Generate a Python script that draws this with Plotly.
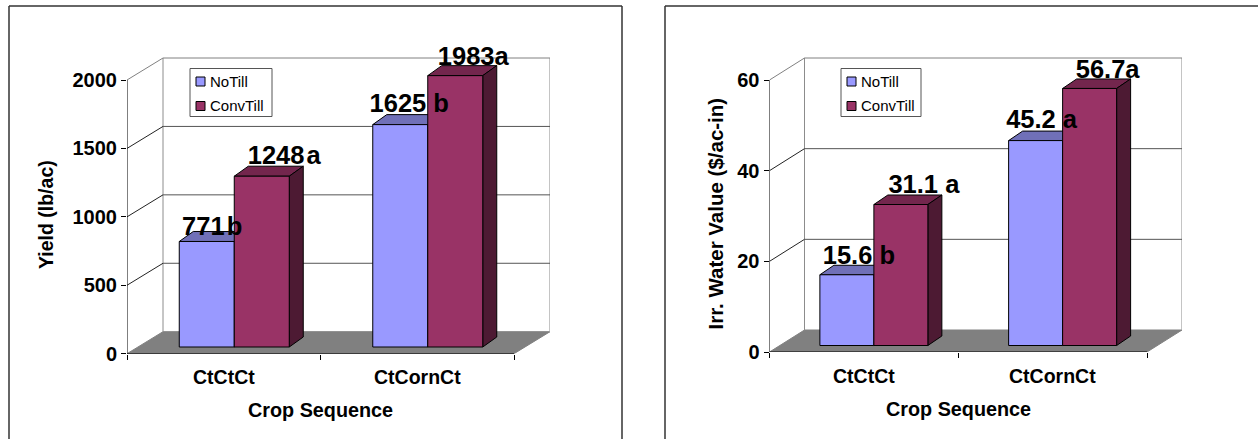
import plotly.graph_objects as go

W, H = 1258, 439
categories = ["CtCtCt", "CtCornCt"]
series_names = ["NoTill", "ConvTill"]

yield_notill = [771, 1625]
yield_convtill = [1248, 1983]
yield_labels_notill = ["771\u200ab", "1625 b"]
yield_labels_convtill = ["1248\u200aa", "1983a"]
yield_ticks = [0, 500, 1000, 1500, 2000]

water_notill = [15.6, 45.2]
water_convtill = [31.1, 56.7]
water_labels_notill = ["15.6 b", "45.2 a"]
water_labels_convtill = ["31.1 a", "56.7a"]
water_ticks = [0, 20, 40, 60]

BLUE, RED = "#9999FF", "#993366"
BLUE_TOP, RED_TOP = "#7070B8", "#73264D"
BLUE_SIDE, RED_SIDE = "#4D4D80", "#4D1A33"
FLOOR = "#808080"
FONT = "Liberation Sans"
HEADROOM = 40  # px of empty axis above the back wall so that tall value labels stay in range


def px(x):
    return x / W


def py(y):
    return 1 - y / H


fig = go.Figure()
shapes, annotations = [], []
layout_axes = {}


def add_chart(idx, cfg):
    xn = "x" if idx == 1 else f"x{idx}"
    yn = "y" if idx == 1 else f"y{idx}"
    xa, ya = f"xaxis{'' if idx == 1 else idx}", f"yaxis{'' if idx == 1 else idx}"
    ticks = cfg["ticks"]
    n = len(categories)
    gw = (cfg["x_front_right"] - cfg["x0"]) / n           # px per category
    vs = (cfg["y0"] - cfg["y_top"]) / ticks[-1]           # px per value unit
    dX, dY = cfg["wall_dx"] / gw, cfg["wall_dy"] / vs     # wall depth in axis units
    bX, bY = cfg["bar_dx"] / gw, cfg["bar_dy"] / vs       # bar plane offset
    tX, tY = cfg["top_dx"] / gw, cfg["top_dy"] / vs       # bar depth
    bw = cfg["bar_w"] / gw

    def path(pts):
        return "M" + " L".join(f"{a},{b}" for a, b in pts) + " Z"

    def shape(pts, fill, line, lw=1):
        shapes.append(dict(type="path", xref=xn, yref=yn, layer="below", path=path(pts),
                           fillcolor=fill, line=dict(color=line, width=lw)))

    def seg(x0, y0, x1, y1, color, lw=1):
        shapes.append(dict(type="line", xref=xn, yref=yn, layer="below", x0=x0, y0=y0, x1=x1, y1=y1,
                           line=dict(color=color, width=lw)))

    # walls, floor, gridlines
    shape([(0, 0), (n, 0), (n + dX, dY), (dX, dY)], FLOOR, FLOOR)
    seg(dX, dY, dX, ticks[-1] + dY, "#8c8c8c")
    seg(n + dX, dY, n + dX, ticks[-1] + dY, "#b0b0b0", 1.5)
    for t in ticks[1:]:
        last = t == ticks[-1]
        seg(0, t, dX, t + dY, "#808080" if last else "#222222")
        seg(dX, t + dY, n + dX, t + dY, "#808080" if last else "#555555")

    # 3D faces of bars, furthest first, from the data values
    for vals, off, top, side in [(cfg["a"], -0.5, BLUE_TOP, BLUE_SIDE), (cfg["b"], 0.5, RED_TOP, RED_SIDE)]:
        for i, v in enumerate(vals):
            c = i + 0.5 + bX + off * bw
            l, r = c - bw / 2, c + bw / 2
            t = v + bY
            shape([(l, t), (r, t), (r + tX, t + tY), (l + tX, t + tY)], top, "#000000")
            shape([(r, bY), (r, t), (r + tX, t + tY), (r + tX, bY + tY)], side, "#000000")

    # front faces as real bars
    for vals, off, color, name in [(cfg["a"], -0.5, BLUE, series_names[0]), (cfg["b"], 0.5, RED, series_names[1])]:
        fig.add_trace(go.Bar(x=[i + 0.5 + bX + off * bw for i in range(n)], y=vals, base=bY, width=bw,
                             name=name, marker=dict(color=color, line=dict(color="#000000", width=1)),
                             xaxis=xn, yaxis=yn, showlegend=False, hoverinfo="y"))

    # front axis lines
    for xs, ys in [([0, 0], [0, ticks[-1]]), ([0, n], [0, 0])]:
        fig.add_trace(go.Scatter(x=xs, y=ys, mode="lines", line=dict(color="#000000", width=1),
                                 cliponaxis=False, xaxis=xn, yaxis=yn, showlegend=False, hoverinfo="skip"))

    # value labels (shifts in px: right, up)
    lx, ly, lt = [], [], []
    for vals, texts, off, shifts in [(cfg["a"], cfg["a_labels"], -0.5, cfg["a_shift"]),
                                     (cfg["b"], cfg["b_labels"], 0.5, cfg["b_shift"])]:
        for i, v in enumerate(vals):
            lx.append(i + 0.5 + bX + off * bw + shifts[i][0] / gw)
            ly.append(v + bY + shifts[i][1] / vs)
            lt.append(texts[i])
    fig.add_trace(go.Scatter(x=lx, y=ly, text=lt, mode="text", textposition="middle center",
                             textfont=dict(family=FONT, size=25.5, color="#000000", weight="bold"),
                             cliponaxis=False, xaxis=xn, yaxis=yn, showlegend=False, hoverinfo="skip"))

    layout_axes[xa] = dict(
        domain=[px(cfg["x0"]), px(cfg["x_front_right"] + cfg["wall_dx"])], automargin=False,
        range=[0, n + dX], tickmode="array", tickvals=[i + 0.5 for i in range(n)], ticktext=categories,
        ticks="", showgrid=False, zeroline=False, showline=False,
        tickfont=dict(color="rgba(0,0,0,0)", size=1), anchor=yn,
        minor=dict(tickmode="array", tickvals=list(range(n + 1)), ticks="outside", ticklen=5,
                   tickcolor="#000000", tickwidth=1, showgrid=False))
    layout_axes[ya] = dict(
        domain=[py(cfg["y0"]), py(cfg["y_top"] - cfg["wall_dy"] - HEADROOM)], automargin=False,
        range=[0, ticks[-1] + dY + HEADROOM / vs], tickmode="array", tickvals=ticks,
        ticktext=[str(t) for t in ticks],
        ticks="outside", ticklen=5, tickcolor="#000000", tickwidth=1, showgrid=False, zeroline=False,
        showline=False, tickfont=dict(family=FONT, size=20, color="#000000", weight="bold"), anchor=xn)

    # category labels and titles
    for i, c in enumerate(categories):
        annotations.append(dict(xref=xn, yref="paper", x=i + 0.5, y=py(cfg["xlabel_y"]), text=c, showarrow=False,
                                xanchor="center", yanchor="middle",
                                font=dict(family=FONT, size=19.5, color="#000000", weight="bold")))
    annotations.append(dict(xref="paper", yref="paper", x=px(cfg["xtitle"][0]), y=py(cfg["xtitle"][1]),
                            text="Crop Sequence", showarrow=False, xanchor="center", yanchor="middle",
                            font=dict(family=FONT, size=19.8, color="#000000", weight="bold")))
    annotations.append(dict(xref="paper", yref="paper", x=px(cfg["ytitle"][0]), y=py(cfg["ytitle"][1]),
                            text=cfg["ylabel"], showarrow=False, textangle=-90, xanchor="center", yanchor="middle",
                            font=dict(family=FONT, size=cfg["ytitle_size"], color="#000000", weight="bold")))

    # frame: left, top and right edges (bottom runs off the page)
    fl, fr = cfg["frame"]
    for x0, y0, x1, y1 in [(fl, 6, fl, H), (fl, 6, fr, 6), (fr, 6, fr, H)]:
        shapes.append(dict(type="line", xref="paper", yref="paper", layer="below",
                           x0=px(x0), x1=px(x1), y0=py(y0), y1=py(y1),
                           line=dict(color="#333333", width=1.5)))

    # legend box
    lx0 = cfg["legend_x"]
    shapes.append(dict(type="rect", xref="paper", yref="paper", layer="below",
                       x0=px(lx0), x1=px(lx0 + cfg["legend_w"]), y0=py(68.5), y1=py(116.5),
                       fillcolor="#FFFFFF", line=dict(color="#555555", width=1)))
    for name, color, yc in [(series_names[0], BLUE, 81.5), (series_names[1], RED, 106)]:
        shapes.append(dict(type="rect", xref="paper", yref="paper", layer="below",
                           x0=px(lx0 + 6), x1=px(lx0 + 15), y0=py(yc + 4.5), y1=py(yc - 4.5),
                           fillcolor=color, line=dict(color="#000000", width=1)))
        annotations.append(dict(xref="paper", yref="paper", x=px(lx0 + 18), y=py(yc), text=name,
                                xanchor="left", yanchor="middle", showarrow=False,
                                font=dict(family=FONT, size=15, color="#000000")))


add_chart(1, dict(
    a=yield_notill, b=yield_convtill, a_labels=yield_labels_notill, b_labels=yield_labels_convtill,
    ticks=yield_ticks, ylabel="Yield (lb/ac)", ytitle_size=19.5,
    x0=127, x_front_right=514, y0=353.7, y_top=80, wall_dx=36, wall_dy=22,
    bar_dx=10.5, bar_dy=6.7, top_dx=14, top_dy=10, bar_w=55, x_standoff=14, xlabel_y=376.5,
    a_shift=[(5.5, 13), (9, 19)], b_shift=[(22.5, 18.5), (18, 17.5)],
    xtitle=(320.5, 410), ytitle=(46, 215), frame=(9, 622), legend_x=190, legend_w=82))

add_chart(2, dict(
    a=water_notill, b=water_convtill, a_labels=water_labels_notill, b_labels=water_labels_convtill,
    ticks=water_ticks, ylabel="Irr. Water Value ($/ac-in)", ytitle_size=20.5,
    x0=769.5, x_front_right=1147, y0=352, y_top=80, wall_dx=35, wall_dy=22,
    bar_dx=10, bar_dy=6.5, top_dx=14, top_dy=9.5, bar_w=54, x_standoff=14, xlabel_y=376,
    a_shift=[(12, 17), (6, 19)], b_shift=[(23, 18), (18, 17)],
    xtitle=(958, 409), ytitle=(715, 213.5), frame=(665, 1275), legend_x=841, legend_w=80))

fig.update_layout(
    width=W, height=H, margin=dict(l=0, r=0, t=0, b=0), autosize=False,
    paper_bgcolor="#FFFFFF", plot_bgcolor="rgba(0,0,0,0)", barmode="overlay", showlegend=False,
    shapes=shapes, annotations=annotations, **layout_axes)

fig.write_html("out.html", post_script="document.body.style.margin='0';",
               config=dict(displayModeBar=False))
